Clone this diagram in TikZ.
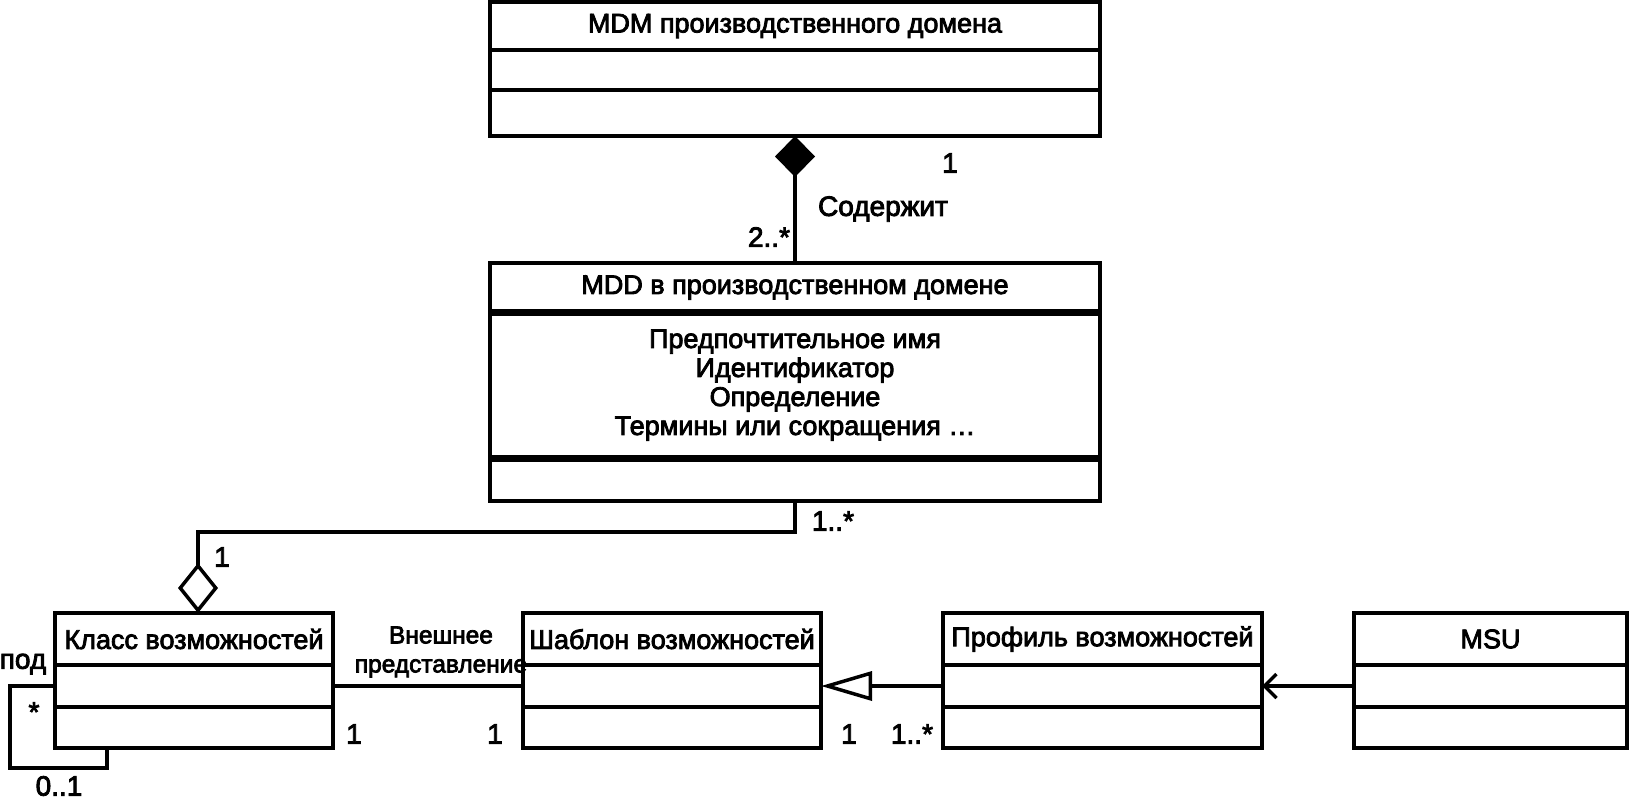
\documentclass[tikz,border=0pt]{standalone}
\usepackage{fontspec}
\setmainfont{Liberation Sans}
\newfontfamily\heavyfont[FakeBold=3]{Liberation Sans}
\usetikzlibrary{arrows.meta}
\begin{document}
\begin{tikzpicture}[x=1pt,y=-1pt,line width=3.5pt,
  comp/.style={draw,rectangle,inner sep=0pt,outer sep=0pt,anchor=north west,font=\heavyfont\fontsize{27}{30}\selectfont},
  lbl/.style={inner sep=0pt,font=\heavyfont\fontsize{28}{30}\selectfont},
  small/.style={inner sep=0pt,font=\heavyfont\fontsize{24.5}{29}\selectfont,align=center},
  thickdiv/.style={line width=7pt}]
\useasboundingbox (0,0) rectangle (1633,801);
% MDM box
\node[comp,minimum width=610pt,minimum height=48pt] (mdm) at (490,2) {MDM производственного домена};
\node[comp,minimum width=610pt,minimum height=40pt] (mdm-a) at (490,50) {};
\node[comp,minimum width=610pt,minimum height=46pt] (mdm-o) at (490,90) {};
% MDD box
\node[comp,minimum width=610pt,minimum height=49pt] (mdd) at (490,263) {MDD в производственном домене};
\node[comp,minimum width=610pt,minimum height=146pt,align=center,font=\heavyfont\fontsize{27}{29}\selectfont] (mdd-a) at (490,312) {Предпочтительное имя\\Идентификатор\\Определение\\Термины или сокращения \dots};
\node[comp,minimum width=610pt,minimum height=43pt] (mdd-o) at (490,458) {};
\draw[thickdiv] (mdd-a.north west) -- (mdd-a.north east);
\draw[thickdiv] (mdd-o.north west) -- (mdd-o.north east);
% Class
\node[comp,minimum width=278pt,minimum height=52pt] (cls) at (55,613) {Класс возможностей};
\node[comp,minimum width=278pt,minimum height=42pt] (cls-a) at (55,665) {};
\node[comp,minimum width=278pt,minimum height=41pt] (cls-o) at (55,707) {};
% Template
\node[comp,minimum width=298pt,minimum height=52pt] (tpl) at (523,613) {Шаблон возможностей};
\node[comp,minimum width=298pt,minimum height=42pt] (tpl-a) at (523,665) {};
\node[comp,minimum width=298pt,minimum height=41pt] (tpl-o) at (523,707) {};
% Profile
\node[comp,minimum width=319pt,minimum height=52pt] (prof) at (943,613) {Профиль возможностей};
\node[comp,minimum width=319pt,minimum height=42pt] (prof-a) at (943,665) {};
\node[comp,minimum width=319pt,minimum height=41pt] (prof-o) at (943,707) {};
% MSU
\node[comp,minimum width=273pt,minimum height=52pt] (msu) at (1354,613) {MSU};
\node[comp,minimum width=273pt,minimum height=42pt] (msu-a) at (1354,665) {};
\node[comp,minimum width=273pt,minimum height=41pt] (msu-o) at (1354,707) {};
% connectors
\draw[{Diamond[length=41pt,width=40pt]}-] (mdm-o.south) -- (mdd.north);
\coordinate (aggc) at (198,532);
\draw[-{Diamond[open,length=50pt,width=40pt]}] (mdd-o.south) |- (aggc) -- (aggc |- cls.north);
\draw (cls-a.east) -- (tpl-a.west);
\draw[-{Triangle[open,length=51pt,width=29pt]}] (prof-a.west) -- (tpl-a.east);
\draw[-{Straight Barb[length=12pt,width=24pt]}] (msu-a.west) -- (prof-a.east);
\coordinate (l1) at (10,768);
\coordinate (l2) at (107,768);
\draw (cls-a.west) -| (l1) -- (l2) -- (l2 |- cls-o.south);
% labels
\node[lbl] (m1) at (950,163) {1};
\node[lbl] (cont) at (883,209) {Содержит};
\node[lbl] (m2) at (769,237) {2..*};
\node[lbl] (m3) at (833,521) {1..*};
\node[lbl] (m4) at (222,557) {1};
\node[lbl] (pod) at (23,664) {под};
\node[lbl] (m5) at (34,712) {*};
\node[lbl] (m6) at (59,786) {0..1};
\node[small] (ext) at (441,652) {Внешнее\\представление};
\node[lbl] (m7) at (354,734) {1};
\node[lbl] (m8) at (495,734) {1};
\node[lbl] (m9) at (849,734) {1};
\node[lbl] (m10) at (912,734) {1..*};
\end{tikzpicture}
\end{document}
